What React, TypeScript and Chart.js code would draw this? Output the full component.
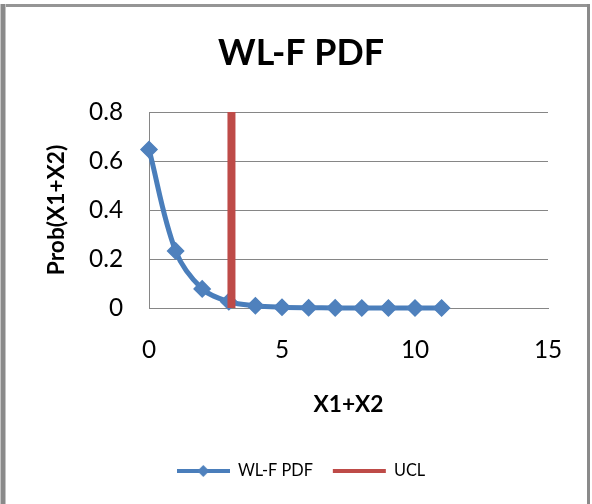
import React, { useEffect, useRef } from 'react';
import { Chart, registerables } from 'chart.js';

Chart.register(...registerables);

// ---- data ----
const xValues = [0, 1, 2, 3, 4, 5, 6, 7, 8, 9, 10, 11];
const pdfValues = [0.647, 0.233, 0.078, 0.026, 0.009, 0.003, 0.001, 0.0004, 0.0001, 0, 0, 0];
const uclX = 3.1;
const uclYRange = [0, 0.8];
const seriesNames = ['WL-F PDF', 'UCL'];
const chartTitle = 'WL-F PDF';
const xAxisTitle = 'X1+X2';
const yAxisTitle = 'Prob(X1+X2)';
const xTicks = [0, 5, 10, 15];
const yTicks = [0, 0.2, 0.4, 0.6, 0.8];

const FONT = 'Lato';
const BLUE = '#4a7ebb';
const BLUE_FILL = '#4f81bd';
const RED = '#be4b48';
const GRID = '#868686';

// layout targets (pixels)
const W = 592;
const H = 504;
const PAD_L = 10;
const AREA_L = 149;
const AREA_R = 548;
const AREA_T = 112;
const AREA_B = 308;
const LEG_PAD = 20;
const LEG_BOX = 53;

function fitSize(text: string, weight: string, target: number): number {
  const ctx = document.createElement('canvas').getContext('2d')!;
  ctx.font = `${weight} 100px ${FONT}`;
  return (target * 100) / ctx.measureText(text).width;
}

function makeLegendIcon(): HTMLCanvasElement {
  const c = document.createElement('canvas');
  c.width = LEG_BOX;
  c.height = 16;
  const g = c.getContext('2d')!;
  g.strokeStyle = BLUE;
  g.lineWidth = 4;
  g.beginPath();
  g.moveTo(0, 8);
  g.lineTo(LEG_BOX, 8);
  g.stroke();
  g.fillStyle = BLUE_FILL;
  g.beginPath();
  g.moveTo(26.5, 2);
  g.lineTo(32.5, 8);
  g.lineTo(26.5, 14);
  g.lineTo(20.5, 8);
  g.closePath();
  g.fill();
  return c;
}

export default function App() {
  const ref = useRef<HTMLCanvasElement | null>(null);

  useEffect(() => {
    if (!ref.current) return;
    Chart.defaults.font.family = FONT;
    Chart.defaults.color = '#000';

    const titleSize = fitSize(chartTitle, 'bold', 166);
    const axisTitleSize = fitSize(xAxisTitle, 'bold', 70);
    const tickSize = fitSize('0.8', 'normal', 34);
    const legendSize = fitSize(seriesNames[0], 'normal', 75);

    const titleLH = titleSize * 1.2;
    const titlePadTop = 53.5 - titleLH / 2;
    const titlePadBottom = AREA_T - titlePadTop - titleLH;

    const legBottomPad = H - 471 - 10 - legendSize / 2;
    const legendTop = H - legBottomPad - (LEG_PAD + legendSize + 10);
    const xScaleHeight = legendTop - AREA_B;
    const axisLH = axisTitleSize * 1.2;
    const xTitlePadBottom = legendTop - 405 - axisLH / 2;
    const tickLH = tickSize * 1.2;
    const xTickPad = 350.5 - AREA_B - tickLH / 2;
    const yTitlePadTop = 57 - PAD_L - axisLH / 2;

    const icon = makeLegendIcon();
    const chart = new Chart(ref.current, {
      type: 'line',
      data: {
        datasets: [
          {
            label: seriesNames[0],
            data: xValues.map((x, i) => ({ x, y: pdfValues[i] })),
            borderColor: BLUE,
            backgroundColor: BLUE_FILL,
            borderWidth: 5,
            tension: 0.35,
            pointStyle: 'rectRot',
            pointRadius: 8,
            pointBorderWidth: 1.5,
            pointBackgroundColor: BLUE_FILL,
            pointBorderColor: BLUE_FILL,
            clip: false,
            order: 2,
          },
          {
            label: seriesNames[1],
            data: [
              { x: uclX, y: uclYRange[0] },
              { x: uclX, y: uclYRange[1] },
            ],
            borderColor: RED,
            backgroundColor: RED,
            borderWidth: 8,
            borderCapStyle: 'butt',
            pointRadius: 0,
            clip: false,
            order: 1,
          },
        ],
      },
      options: {
        responsive: false,
        animation: false,
        layout: { padding: { left: PAD_L, right: 0, top: 0, bottom: legBottomPad } },
        plugins: {
          title: {
            display: true,
            text: chartTitle,
            font: { family: FONT, size: titleSize, weight: 'bold' },
            color: '#000',
            padding: { top: titlePadTop, bottom: titlePadBottom },
          },
          legend: {
            position: 'bottom',
            labels: {
              usePointStyle: true,
              pointStyleWidth: LEG_BOX,
              padding: LEG_PAD,
              color: '#000',
              font: { family: FONT, size: legendSize },
              generateLabels: () => [
                {
                  text: seriesNames[0],
                  pointStyle: icon as any,
                  fillStyle: BLUE_FILL,
                  strokeStyle: BLUE,
                  lineWidth: 0,
                  hidden: false,
                  datasetIndex: 0,
                },
                {
                  text: seriesNames[1],
                  pointStyle: 'line',
                  fillStyle: RED,
                  strokeStyle: RED,
                  lineWidth: 4,
                  hidden: false,
                  datasetIndex: 1,
                },
              ],
            },
          },
          tooltip: { enabled: false },
        },
        scales: {
          x: {
            type: 'linear',
            position: 'bottom',
            min: xTicks[0],
            max: xTicks[xTicks.length - 1],
            ticks: {
              stepSize: xTicks[1] - xTicks[0],
              padding: xTickPad,
              font: { family: FONT, size: tickSize },
              color: '#000',
            },
            grid: { display: false, drawTicks: false },
            border: { display: true, color: GRID, width: 1 },
            title: {
              display: true,
              text: xAxisTitle,
              font: { family: FONT, size: axisTitleSize, weight: 'bold' },
              color: '#000',
              padding: { top: 0, bottom: xTitlePadBottom },
            },
            afterFit: (s: any) => {
              s.height = xScaleHeight;
            },
          },
          y: {
            type: 'linear',
            position: 'left',
            min: yTicks[0],
            max: yTicks[yTicks.length - 1],
            ticks: {
              stepSize: yTicks[1] - yTicks[0],
              padding: AREA_L - 123,
              font: { family: FONT, size: tickSize },
              color: '#000',
            },
            grid: { color: GRID, lineWidth: 1, drawTicks: false },
            border: { display: true, color: GRID, width: 1 },
            title: {
              display: true,
              text: yAxisTitle,
              font: { family: FONT, size: axisTitleSize, weight: 'bold' },
              color: '#000',
              padding: { top: yTitlePadTop, bottom: 0 },
            },
            afterFit: (s: any) => {
              s.width = AREA_L - PAD_L;
            },
          },
          y2: {
            type: 'linear',
            position: 'right',
            display: true,
            grid: { display: false, drawTicks: false },
            border: { display: false },
            ticks: { display: false },
            afterFit: (s: any) => {
              s.width = W - AREA_R;
            },
          },
        },
      },
    } as any);
    return () => chart.destroy();
  }, []);

  return (
    <div style={{ position: 'fixed', left: 0, top: 0, width: W, height: H, background: '#fff' }}>
      <canvas ref={ref} width={W} height={H} style={{ display: 'block' }} />
      <div style={{ position: 'absolute', left: 0, top: 4, width: 590, height: 3, background: '#959595' }} />
      <div
        style={{
          position: 'absolute',
          left: 0,
          top: 4,
          width: 6,
          height: 500,
          background: 'linear-gradient(to right, #c4c4c4 0 1px, #8a8a8a 1px 5px, #c4c4c4 5px 6px)',
        }}
      />
      <div style={{ position: 'absolute', left: 587, top: 4, width: 3, height: 500, background: '#8a8a8a' }} />
    </div>
  );
}
